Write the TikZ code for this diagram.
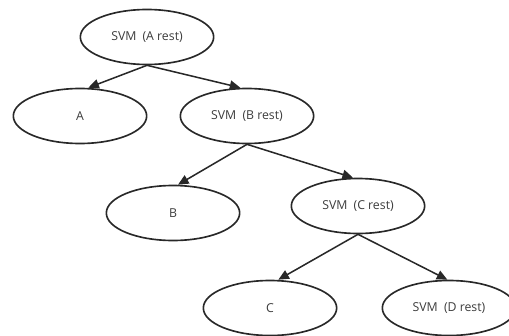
\documentclass[tikz,border=0pt]{standalone}
\usepackage{fontspec}
\setmainfont{Open Sans}
\usepackage{tikz}
\usetikzlibrary{arrows.meta,positioning,shapes.geometric}
\definecolor{linegray}{RGB}{40,40,40}
\definecolor{textgray}{RGB}{60,60,60}

\tikzset{
  svmnode/.style={draw=linegray, ellipse, line width=1.4pt, minimum width=4cm, minimum height=1.65cm, inner sep=0pt, text=textgray, font=\fontsize{10.5}{12}\selectfont},
  branch/.style={draw=linegray, -{Triangle[length=9pt,width=8pt]}, line width=1.3pt}
}

\begin{document}
\begin{tikzpicture}[x=0.03cm, y=-0.03cm]
        \useasboundingbox (0,0) rectangle (509,335);
        % first level
        \node[svmnode] (svmA) at (147,37) {SVM\hspace{0.5em}(A rest)};
        \node[svmnode] (A) at (80,116) {A};
        \node[svmnode] (svmB) at (247,116) {SVM\hspace{0.5em}(B rest)};
        % second level
        \node[svmnode] (B) at (173,213) {B};
        \node[svmnode] (svmC) at (358,206) {SVM\hspace{0.5em}(C rest)};
        % third level
        \node[svmnode] (C) at (270,308) {C};
        \node[svmnode] (svmD) at (449,308) {SVM\hspace{0.5em}(D rest)};
        % Connections
        \draw[branch] (svmA.south) -- ([xshift=0.25cm]A.north);
        \draw[branch] (svmA.south) -- ([xshift=-0.2cm]svmB.north);
        \draw[branch] (svmB.south) -- ([xshift=0.15cm]B.north);
        \draw[branch] (svmB.south) -- ([xshift=-0.15cm]svmC.north);
        \draw[branch] (svmC.south) -- ([xshift=0.25cm]C.north);
        \draw[branch] (svmC.south) -- ([xshift=-0.05cm]svmD.north);
    \end{tikzpicture}
\end{document}
